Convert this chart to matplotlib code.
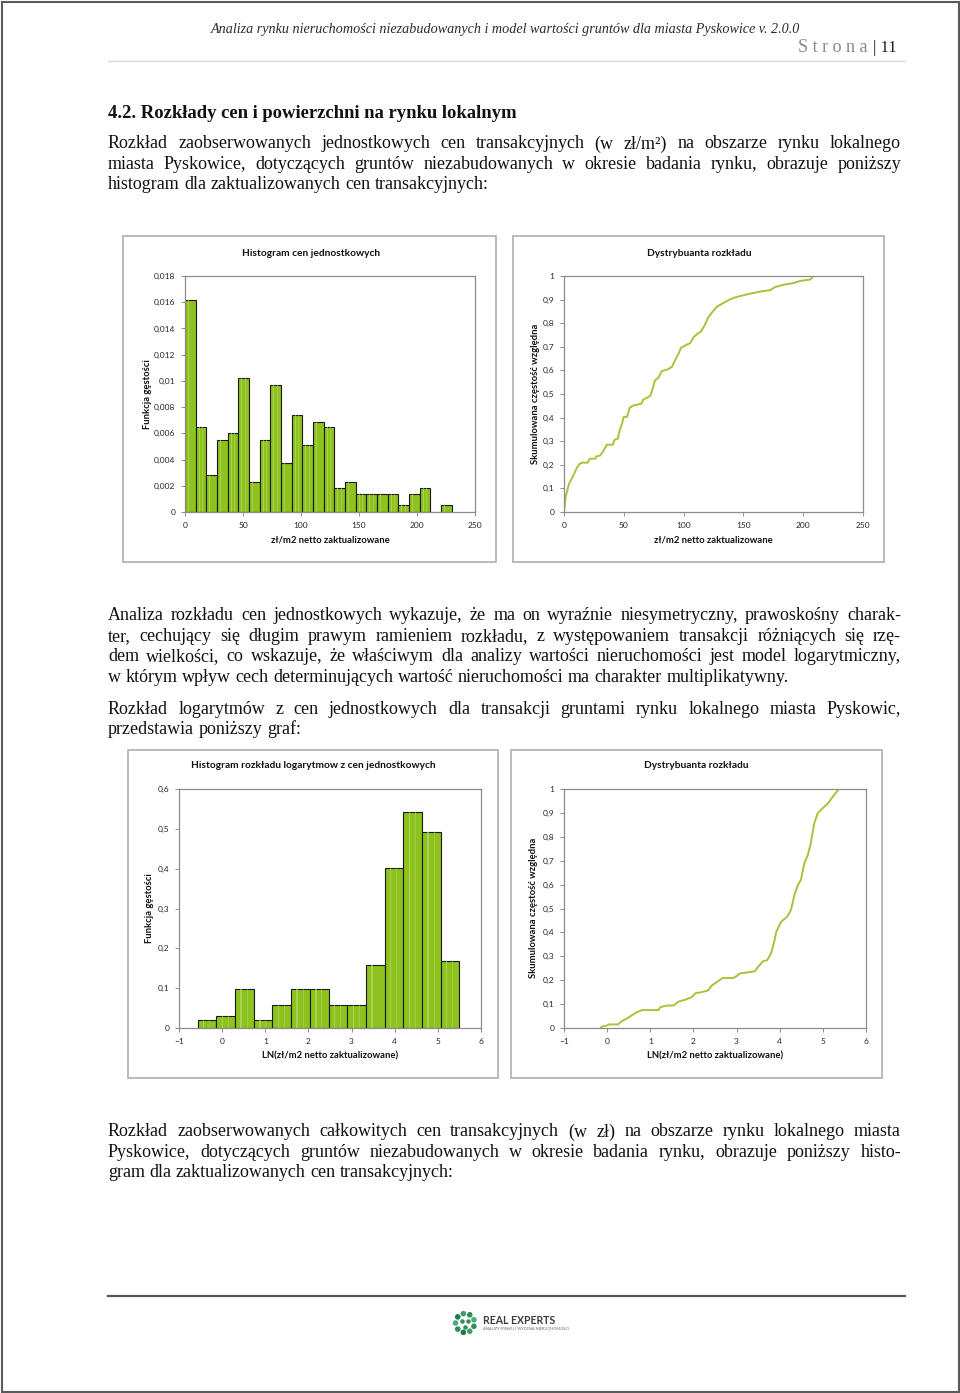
import matplotlib
matplotlib.use("Agg")
import numpy as np
import matplotlib.pyplot as plt
from matplotlib.patches import Rectangle
from matplotlib.ticker import FuncFormatter, MultipleLocator

W, H = 960, 1393

# -------------------------------------------
# Data
# -------------------------------------------
# histogram of unit prices (zł/m2), density per bin
price_bin_start = 0.0
price_bin_width = 9.2
price_density = [0.0162, 0.0065, 0.0028, 0.0055, 0.0060, 0.0102, 0.0023, 0.0055,
                 0.0097, 0.0037, 0.0074, 0.0051, 0.0069, 0.0065, 0.0018, 0.0023,
                 0.0014, 0.0014, 0.0014, 0.0014, 0.0005, 0.0014, 0.0018, 0.0,
                 0.0005]

# empirical CDF of unit prices
price_cdf_x = [0, 1.4, 2.8, 4.2, 6.5, 8.5, 10.4, 12.7, 14.9, 19.7, 21.7, 26.2,
               27.3, 30.1, 32.4, 35.8, 40.8, 42.3, 45.0, 46.5, 48.5, 49.9, 52.7,
               54.9, 58.3, 64.8, 66.2, 70.4, 72.4, 74.1, 76.1, 78.9, 81.7, 85.9,
               90.1, 93.0, 95.8, 97.7, 101.4, 105.6, 108.5, 111.8, 114.5, 117.5,
               120.7, 123.0, 126.3, 128.5, 131.0, 136.1, 141.6, 147.2, 155.6,
               164.0, 172.3, 176.5, 183.5, 191.9, 197.5, 205.9, 208.6, 222.6]
price_cdf_y = [0, 0.064, 0.092, 0.12, 0.141, 0.162, 0.184, 0.202, 0.209, 0.209,
               0.226, 0.226, 0.236, 0.239, 0.254, 0.285, 0.285, 0.306, 0.311,
               0.346, 0.374, 0.403, 0.403, 0.442, 0.452, 0.459, 0.476, 0.487,
               0.494, 0.523, 0.558, 0.569, 0.597, 0.603, 0.614, 0.645, 0.671,
               0.695, 0.706, 0.716, 0.742, 0.756, 0.765, 0.79, 0.826, 0.84,
               0.862, 0.872, 0.879, 0.894, 0.907, 0.915, 0.925, 0.934, 0.94,
               0.953, 0.963, 0.970, 0.979, 0.985, 1.0, 1.0]

# histogram of ln(unit price)
ln_bin_start = -0.567
ln_bin_width = 0.4334
ln_density = [0.02, 0.03, 0.098, 0.02, 0.058, 0.098, 0.098, 0.058, 0.058,
              0.158, 0.402, 0.542, 0.493, 0.168]

# empirical CDF of ln(unit price)
ln_cdf_x = [-0.15, -0.13, 0.0, 0.05, 0.25, 0.35, 0.46, 0.58, 0.69, 0.81, 1.19,
            1.23, 1.38, 1.54, 1.65, 1.80, 1.96, 2.05, 2.19, 2.34, 2.42, 2.57,
            2.68, 2.92, 3.0, 3.07, 3.26, 3.42, 3.50, 3.61, 3.71, 3.80, 3.88,
            3.92, 4.03, 4.17, 4.26, 4.34, 4.42, 4.49, 4.57, 4.65, 4.72, 4.80,
            4.88, 4.99, 5.12, 5.22, 5.30, 5.37]
ln_cdf_y = [0.0, 0.005, 0.011, 0.015, 0.015, 0.03, 0.04, 0.054, 0.066, 0.075,
            0.075, 0.087, 0.094, 0.094, 0.11, 0.118, 0.129, 0.146, 0.15, 0.157,
            0.177, 0.196, 0.209, 0.209, 0.217, 0.228, 0.233, 0.237, 0.256,
            0.279, 0.284, 0.312, 0.367, 0.402, 0.444, 0.465, 0.493, 0.556,
            0.598, 0.619, 0.689, 0.723, 0.772, 0.856, 0.898, 0.919, 0.94,
            0.965, 0.984, 1.0]

# page texts
header_title = ("Analiza rynku nieruchomości niezabudowanych i model wartości "
                "gruntów dla miasta Pyskowice v. 2.0.0")
heading = "4.2. Rozkłady cen i powierzchni na rynku lokalnym"
para1 = ["Rozkład zaobserwowanych jednostkowych cen transakcyjnych (w zł/m²) na obszarze rynku lokalnego",
         "miasta Pyskowice, dotyczących gruntów niezabudowanych w okresie badania rynku, obrazuje poniższy",
         "histogram dla zaktualizowanych cen transakcyjnych:"]
para2 = ["Analiza rozkładu cen jednostkowych wykazuje, że ma on wyraźnie niesymetryczny, prawoskośny charak-",
         "ter, cechujący się długim prawym ramieniem rozkładu, z występowaniem transakcji różniących się rzę-",
         "dem wielkości, co wskazuje, że właściwym dla analizy wartości nieruchomości jest model logarytmiczny,",
         "w którym wpływ cech determinujących wartość nieruchomości ma charakter multiplikatywny."]
para3 = ["Rozkład logarytmów z cen jednostkowych dla transakcji gruntami rynku lokalnego miasta Pyskowic,",
         "przedstawia poniższy graf:"]
para4 = ["Rozkład zaobserwowanych całkowitych cen transakcyjnych (w zł) na obszarze rynku lokalnego miasta",
         "Pyskowice, dotyczących gruntów niezabudowanych w okresie badania rynku, obrazuje poniższy histo-",
         "gram dla zaktualizowanych cen transakcyjnych:"]

SANS = "Lato"
SERIF = "Liberation Serif"
BAR = "#8dc21f"
BAR_HI = "#c4e27e"
LINE = "#a6c33a"
AXIS = "#8c8c8c"

plt.rcParams["font.family"] = [SANS, "DejaVu Sans"]

fig = plt.figure(figsize=(W / 100, H / 100), dpi=100)
page = fig.add_axes([0, 0, 1, 1])
page.set_xlim(0, W)
page.set_ylim(H, 0)
page.axis("off")


def px_axes(x0, y0, x1, y1):
    return fig.add_axes([x0 / W, 1 - y1 / H, (x1 - x0) / W, (y1 - y0) / H])


def comma(v, _pos=None):
    return f"{round(v, 4):g}".replace(".", ",")


def style_axes(ax):
    ax.set_facecolor("none")
    for s in ax.spines.values():
        s.set_color(AXIS)
        s.set_linewidth(0.9)
    ax.tick_params(direction="out", length=3, width=0.7, color=AXIS,
                   labelsize=6, labelcolor="#262626", pad=4)
    ax.yaxis.set_major_formatter(FuncFormatter(comma))


def justify(lines, y0, step, x0=108, x1=901, size=13.0):
    r = fig.canvas.get_renderer()
    for i, line in enumerate(lines):
        y = y0 + i * step
        words = line.split(" ")
        arts = [page.text(0, y, w, family=SERIF, fontsize=size, color="#111111",
                          va="center", ha="left") for w in words]
        widths = [a.get_window_extent(r).width for a in arts]
        last = i == len(lines) - 1
        if last:
            sp = page.text(0, 0, "a a", family=SERIF, fontsize=size)
            sa = page.text(0, 0, "aa", family=SERIF, fontsize=size)
            gap = sp.get_window_extent(r).width - sa.get_window_extent(r).width
            sp.remove()
            sa.remove()
        else:
            gap = (x1 - x0 - sum(widths)) / (len(words) - 1)
        x = x0
        for a, w in zip(arts, widths):
            a.set_x(x)
            x += w + gap


# page border, header and footer
page.add_patch(Rectangle((1.5, 1.5), W - 3, H - 3, fill=False, ec="#5a5a5a", lw=1.5))
page.text(505, 30, header_title, family=SERIF, style="italic", fontsize=10.2,
          color="#2b2b2b", ha="center", va="center")
page.text(867, 48, "S t r o n a", family=SERIF, fontsize=13, color="#8a8a8a",
          ha="right", va="center")
page.text(873, 48, "| 11", family=SERIF, fontsize=12, color="#222222",
          ha="left", va="center")
page.plot([108, 905], [61, 61], color="#d9d9d9", lw=1)
page.plot([108, 905], [1296, 1296], color="#555555", lw=1.6)

page.text(108, 113, heading, family=SERIF, weight="bold", fontsize=13.4,
          color="#111111", ha="left", va="center")
justify(para1, 144, 20.2)
justify(para2, 616, 20.4)
justify(para3, 709, 20.4)
justify(para4, 1132, 20.2)

# logo
cx, cy = 465, 1323
ang = np.deg2rad(np.arange(0, 360, 40) + 20)
page.scatter(cx + 9.5 * np.cos(ang), cy + 9.5 * np.sin(ang), s=9, marker="o",
             color=["#2f8f5b", "#3aa06a", "#1f7a4a", "#2f8f5b", "#47ad75",
                    "#1f7a4a", "#3aa06a", "#2f8f5b", "#47ad75"], zorder=3)
page.scatter([cx - 3, cx + 3, cx], [cy - 2, cy - 2, cy + 3.5], s=5,
             color="#2f8f5b", zorder=3)
page.text(483, 1320, "REAL EXPERTS", family=SANS, weight="bold", fontsize=7.6,
          color="#3c3c3c", ha="left", va="center")
page.text(483, 1329, "ANALIZY RYNKU I WYCENA NIERUCHOMOŚCI", family=SANS,
          fontsize=2.9, color="#6a6a6a", ha="left", va="center")

# chart frames
for (x0, y0, x1, y1) in [(123, 236, 496, 562), (513, 236, 884, 562),
                         (128, 750, 498, 1078), (511, 750, 882, 1078)]:
    page.add_patch(Rectangle((x0, y0), x1 - x0, y1 - y0, fill=False,
                             ec="#b5b5b5", lw=1.3))


def chart_texts(title, tx, ty, xlabel, xx, xy, ylabel, yx, yy):
    page.text(tx, ty, title, family=SANS, weight="bold", fontsize=7.3,
              color="#111111", ha="center", va="center")
    page.text(xx, xy, xlabel, family=SANS, weight="bold", fontsize=6.8,
              color="#111111", ha="center", va="center")
    page.text(yx, yy, ylabel, family=SANS, weight="bold", fontsize=6.8,
              color="#111111", ha="center", va="center", rotation=90)


def draw_hist(ax, start, width, dens):
    left = start + width * np.arange(len(dens))
    ax.bar(left, dens, width=width, align="edge", color=BAR,
           edgecolor="#1a1a1a", linewidth=0.8, zorder=2)
    ax.bar(left + width * 0.28, dens, width=width * 0.08, align="edge",
           color=BAR_HI, alpha=0.55, linewidth=0, zorder=3)
    ax.bar(left + width * 0.62, dens, width=width * 0.05, align="edge",
           color=BAR_HI, alpha=0.4, linewidth=0, zorder=3)


# chart 1: histogram of unit prices
ax1 = px_axes(185, 276, 475, 512)
style_axes(ax1)
draw_hist(ax1, price_bin_start, price_bin_width, price_density)
ax1.set_xlim(0, 250)
ax1.set_ylim(0, 0.018)
ax1.xaxis.set_major_locator(MultipleLocator(50))
ax1.yaxis.set_major_locator(MultipleLocator(0.002))
chart_texts("Histogram cen jednostkowych", 311, 253,
            "zł/m2 netto zaktualizowane", 330, 540,
            "Funkcja gęstości", 147, 394)

# chart 2: CDF of unit prices
ax2 = px_axes(564, 276, 863, 512)
style_axes(ax2)
ax2.plot(price_cdf_x, price_cdf_y, color=LINE, lw=1.4)
ax2.set_xlim(0, 250)
ax2.set_ylim(0, 1)
ax2.xaxis.set_major_locator(MultipleLocator(50))
ax2.yaxis.set_major_locator(MultipleLocator(0.1))
chart_texts("Dystrybuanta rozkładu", 699, 253,
            "zł/m2 netto zaktualizowane", 713, 540,
            "Skumulowana częstość względna", 535, 394)

# chart 3: histogram of ln prices
ax3 = px_axes(179, 789, 481, 1028)
style_axes(ax3)
draw_hist(ax3, ln_bin_start, ln_bin_width, ln_density)
ax3.set_xlim(-1, 6)
ax3.set_ylim(0, 0.6)
ax3.xaxis.set_major_locator(MultipleLocator(1))
ax3.yaxis.set_major_locator(MultipleLocator(0.1))
chart_texts("Histogram rozkładu logarytmow z cen jednostkowych", 313, 766,
            "LN(zł/m2 netto zaktualizowane)", 330, 1056,
            "Funkcja gęstości", 150, 908)

# chart 4: CDF of ln prices
ax4 = px_axes(564, 789, 866, 1028)
style_axes(ax4)
ax4.plot(ln_cdf_x, ln_cdf_y, color=LINE, lw=1.4)
ax4.set_xlim(-1, 6)
ax4.set_ylim(0, 1)
ax4.xaxis.set_major_locator(MultipleLocator(1))
ax4.yaxis.set_major_locator(MultipleLocator(0.1))
chart_texts("Dystrybuanta rozkładu", 696, 766,
            "LN(zł/m2 netto zaktualizowane)", 715, 1056,
            "Skumulowana częstość względna", 533, 908)

fig.savefig("out.png", dpi=100)
